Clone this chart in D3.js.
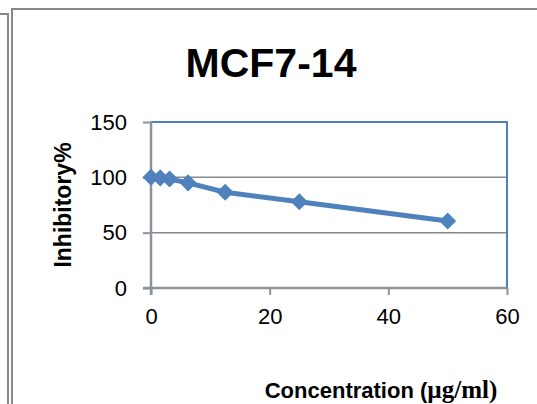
<!DOCTYPE html>
<html>
<head>
<meta charset="utf-8">
<script src="https://cdn.jsdelivr.net/npm/d3@7"></script>
<style>
  body { margin: 0; background: #fff; }
  svg { display: block; }
</style>
</head>
<body>
<svg id="chart" width="537" height="404"></svg>
<script>
// DATA
var concentration = [0, 1.5625, 3.125, 6.25, 12.5, 25, 50];
var inhibitory = [100, 99.5, 98.5, 95, 86.5, 78, 60.5];
var xTicks = [0, 20, 40, 60];
var yTicks = [0, 50, 100, 150];

var svg = d3.select("#chart");

// plot area
var plotLeft = 151, plotRight = 507, plotTop = 122, plotBottom = 288;
var blue = "#4f81bd";
var axisGray = "#8a929c";
var gridGray = "#888";

var x = d3.scaleLinear().domain([0, 60]).range([plotLeft, plotRight]);
var y = d3.scaleLinear().domain([0, 150]).range([plotBottom, plotTop]);

// frame lines (pieces of the surrounding document)
svg.append("path")
    .attr("d", "M0,14H8V404")
    .attr("fill", "none").attr("stroke", "#888").attr("stroke-width", 2);
svg.append("path")
    .attr("d", "M12,404V9H537")
    .attr("fill", "none").attr("stroke", "#888").attr("stroke-width", 2);

// title
svg.append("text")
    .attr("x", 271).attr("y", 77)
    .attr("text-anchor", "middle")
    .style("font-family", "'Liberation Sans', Arial, sans-serif")
    .style("font-weight", "bold")
    .style("font-size", "41px")
    .text("MCF7-14");

// gridlines
svg.append("g")
    .selectAll("line")
    .data(yTicks.filter(function (d) { return d > 0 && d < 150; }))
    .join("line")
    .attr("x1", plotLeft).attr("x2", plotRight)
    .attr("y1", function (d) { return y(d); })
    .attr("y2", function (d) { return y(d); })
    .attr("stroke", gridGray).attr("stroke-width", 1.5);

// plot border top/right in blue
svg.append("path")
    .attr("d", "M" + plotLeft + "," + plotTop + "H" + plotRight + "V" + plotBottom)
    .attr("fill", "none").attr("stroke", blue).attr("stroke-width", 2);

// AXES
var yAxis = d3.axisLeft(y).tickValues(yTicks).tickSize(8).tickPadding(16);
var xAxis = d3.axisBottom(x).tickValues(xTicks).tickSize(7).tickPadding(13);

var gy = svg.append("g").attr("transform", "translate(" + plotLeft + ",0)").call(yAxis);
var gx = svg.append("g").attr("transform", "translate(0," + plotBottom + ")").call(xAxis);

[gx, gy].forEach(function (g) {
    g.select(".domain").attr("stroke", axisGray).attr("stroke-width", 2.5);
    g.selectAll(".tick line").attr("stroke", axisGray).attr("stroke-width", 2);
    g.selectAll("text")
        .attr("fill", "#000")
        .style("font-family", "'Liberation Sans', Arial, sans-serif")
        .style("font-size", "22px");
});
gy.select(".domain").attr("d", "M0," + plotTop + "V" + (plotBottom + 7));
gx.select(".domain").attr("d", "M" + (plotLeft - 8) + ",0H" + plotRight);

// axis titles
svg.append("text")
    .attr("transform", "translate(71,205) rotate(-90)")
    .attr("text-anchor", "middle")
    .style("font-family", "'Liberation Sans', Arial, sans-serif")
    .style("font-weight", "bold")
    .style("font-size", "23px")
    .text("Inhibitory%");

var xt = svg.append("text")
    .attr("x", 381).attr("y", 398)
    .attr("text-anchor", "middle")
    .style("font-weight", "bold")
    .style("font-size", "22px");
xt.append("tspan").style("font-family", "'Liberation Sans', Arial, sans-serif").text("Concentration (");
xt.append("tspan").style("font-family", "'Liberation Serif', 'Times New Roman', serif").style("font-size", "25px").text("µg/ml)");

// SERIES
var pts = concentration.map(function (c, i) { return [c, inhibitory[i]]; });

svg.append("path")
    .datum(pts)
    .attr("fill", "none")
    .attr("stroke", blue)
    .attr("stroke-width", 5)
    .attr("stroke-linejoin", "round")
    .attr("d", d3.line()
        .x(function (d) { return x(d[0]); })
        .y(function (d) { return y(d[1]); }));

var diamond = d3.symbol().type(d3.symbolDiamond2).size(185);
svg.append("g")
    .selectAll("path")
    .data(pts)
    .join("path")
    .attr("transform", function (d) { return "translate(" + x(d[0]) + "," + y(d[1]) + ")"; })
    .attr("d", diamond)
    .attr("fill", blue);
</script>
</body>
</html>
